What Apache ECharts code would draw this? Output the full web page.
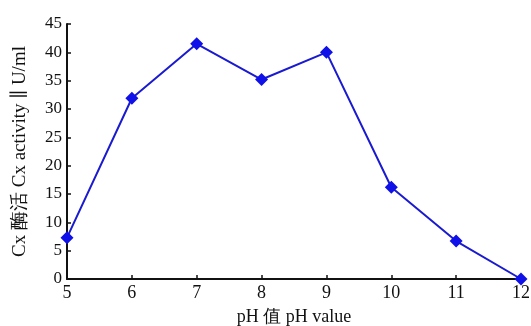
<!DOCTYPE html>
<html><head><meta charset="utf-8">
<script src="https://cdn.jsdelivr.net/npm/echarts@6/dist/echarts.min.js"></script>
<style>html,body{margin:0;padding:0;background:#fff}#c{width:531px;height:326px}</style>
</head><body><div id="c"></div>
<script>
const phValues = [5, 6, 7, 8, 9, 10, 11, 12];
const activity = [7.3, 31.9, 41.5, 35.2, 40.0, 16.2, 6.7, 0];
const xName = 'pH 值 pH value';
const yName = 'Cx 酶活 Cx activity ∥ U/ml';

const font = "'Liberation Serif','DejaVu Serif',serif";
const chart = echarts.init(document.getElementById('c'));
chart.setOption({
  animation: false,
  grid: {left: 67, right: 10, top: 24, bottom: 47, containLabel: false, outerBoundsMode: 'none'},
  xAxis: {
    type: 'value', min: 5, max: 12, interval: 1,
    name: xName, nameLocation: 'middle', nameGap: 29,
    nameTextStyle: {fontFamily: font, fontSize: 18, color: '#111'},
    axisLine: {show: true, lineStyle: {color: '#111', width: 2}},
    axisTick: {show: true, inside: true, length: 4, lineStyle: {color: '#111', width: 1.5}},
    axisLabel: {fontFamily: font, fontSize: 18, color: '#111', margin: 5},
    splitLine: {show: false}
  },
  yAxis: {
    type: 'value', min: 0, max: 45, interval: 5,
    name: yName, nameLocation: 'middle', nameGap: 37, nameRotate: 90,
    nameTextStyle: {fontFamily: font, fontSize: 19, color: '#111'},
    axisLine: {show: true, lineStyle: {color: '#111', width: 2}},
    axisTick: {show: true, inside: true, length: 4, lineStyle: {color: '#111', width: 1.5}},
    axisLabel: {fontFamily: font, fontSize: 17, color: '#111', margin: 5},
    splitLine: {show: false}
  },
  series: [{
    type: 'line',
    data: phValues.map((x, i) => [x, activity[i]]),
    symbol: 'diamond', symbolSize: 13,
    lineStyle: {color: '#1a1ad0', width: 2},
    itemStyle: {color: '#1010e8'},
    clip: false
  }]
});
</script></body></html>
